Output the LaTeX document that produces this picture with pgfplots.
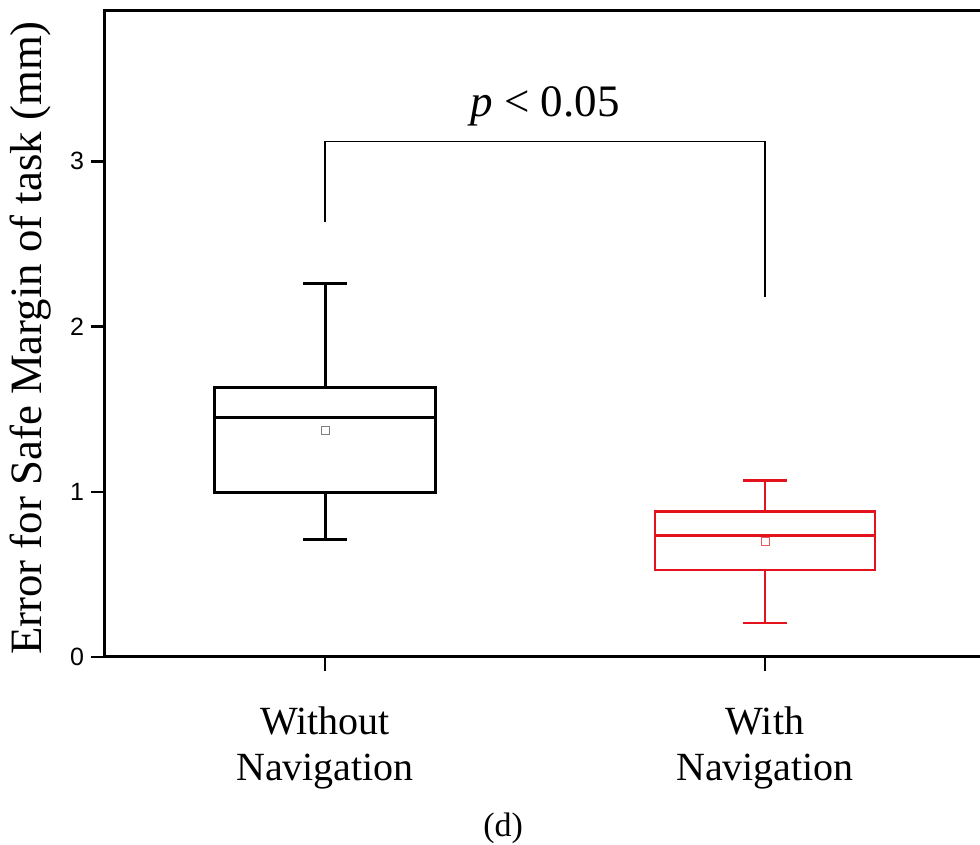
\documentclass[border=0pt]{standalone}
\usepackage{pgfplots}
\pgfplotsset{compat=1.18}
\usepgfplotslibrary{statistics}
\usepackage{fontspec}
\setmainfont{Liberation Serif}
\newfontfamily\arialfont{Liberation Sans}
\definecolor{boxred}{RGB}{228,18,28}
\begin{document}
\begin{tikzpicture}
\begin{axis}[
  name=ax,
  width=440pt, height=323pt, scale only axis,
  xmin=0.5, xmax=2.5, ymin=0, ymax=3.91,
  axis line style={line width=1.5pt},
  tick pos=left, tick align=outside,
  major tick length=7pt,
  every tick/.style={black, line width=1.2pt},
  xtick={1,2}, xticklabels={Without\\Navigation, With\\Navigation},
  xticklabel style={align=center, font=\fontsize{20}{23}\selectfont, yshift=-14.5pt},
  ytick={0,1,2,3},
  yticklabel style={font=\arialfont\fontsize{12.5}{14}\selectfont},
  /pgf/number format/assume math mode=true,
  ylabel={Error for Safe Margin of task (mm)},
  every axis y label/.style={at={(rel axis cs:0,0.5)}, rotate=90, anchor=south,
    inner sep=0pt, yshift=26.5pt, xshift=-2pt, font=\fontsize{22.4}{26}\selectfont},
  boxplot/draw direction=y,
  clip=false,
]
\addplot[draw=black, line width=1.5pt, solid, mark=none,
  boxplot prepared={draw position=1, lower whisker=0.712, lower quartile=0.996,
    median=1.448, upper quartile=1.633, upper whisker=2.26,
    box extend=0.5, whisker extend=0.1}] coordinates {};
\addplot[draw=boxred, line width=1.4pt, solid, mark=none,
  boxplot prepared={draw position=2, lower whisker=0.206, lower quartile=0.526,
    median=0.734, upper quartile=0.879, upper whisker=1.069,
    box extend=0.5, whisker extend=0.1}] coordinates {};
\addplot[only marks, mark=square, mark size=2pt, draw=gray, line width=0.5pt] coordinates {(1,1.373)};
\addplot[only marks, mark=square, mark size=2pt, draw=boxred!70, line width=0.5pt] coordinates {(2,0.70)};
\addplot[black, line width=0.8pt, mark=none] coordinates {(1,2.63) (1,3.12) (2,3.12) (2,2.18)};
\node[font=\fontsize{22.5}{26}\selectfont, anchor=base] at (axis cs:1.5,3.27) {\textit{p} < 0.05};
\node[font=\fontsize{17}{20}\selectfont] at (axis cs:1.405,0) [yshift=-85.5pt] {(d)};
\end{axis}
\pgfresetboundingbox
\useasboundingbox ([xshift=-52.5pt, yshift=-94pt]ax.south west) rectangle ([xshift=437.5pt, yshift=328.5pt]ax.south west);
\end{tikzpicture}
\end{document}
